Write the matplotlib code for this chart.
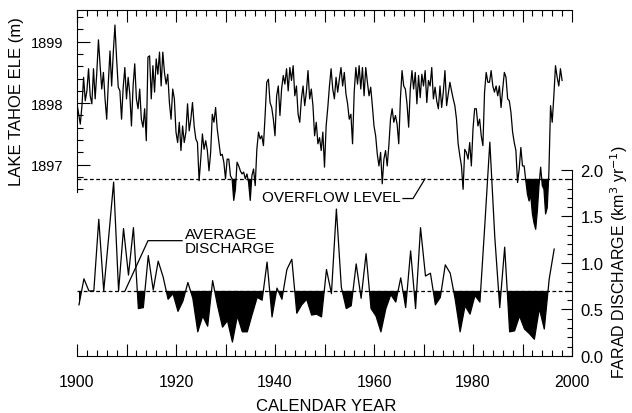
import numpy as np
import matplotlib
matplotlib.use("Agg")
import matplotlib.pyplot as plt
from matplotlib.ticker import MultipleLocator, FixedLocator, FuncFormatter

plt.rcParams['font.family'] = ['Liberation Sans', 'DejaVu Sans']

# lake surface elevation (m), read every 1/3 year from 1900.0
lake_elev = [
    1897.99, 1897.82, 1897.66, 1897.96, 1898.42, 1898.04, 1898.20, 1898.56, 1898.12, 1897.99,
    1898.56, 1898.07, 1898.50, 1899.03, 1898.61, 1898.23, 1898.50, 1898.07, 1897.74, 1898.34,
    1898.85, 1898.28, 1898.83, 1899.27, 1898.72, 1898.26, 1898.20, 1897.74, 1898.26, 1898.58,
    1898.07, 1898.42, 1898.15, 1897.63, 1898.28, 1898.64, 1898.07, 1897.91, 1898.23, 1897.74,
    1897.61, 1897.91, 1897.39, 1898.75, 1898.77, 1898.07, 1898.61, 1898.18, 1898.72, 1898.47,
    1898.83, 1898.28, 1898.83, 1898.50, 1898.31, 1898.47, 1898.01, 1897.74, 1898.23, 1898.07,
    1897.53, 1897.36, 1897.69, 1897.23, 1897.63,
    1897.36, 1897.53, 1897.99, 1897.55, 1897.74,
    1898.01, 1897.63, 1897.42, 1897.36, 1896.74, 1897.09, 1897.50, 1897.25, 1897.39, 1897.23,
    1896.90, 1897.20, 1897.82, 1897.69, 1897.93, 1897.58, 1897.36, 1897.15, 1897.17, 1897.04,
    1896.77, 1897.09, 1897.09, 1896.82, 1896.77, 1896.42, 1896.60, 1897.04, 1896.98, 1896.90,
    1896.85, 1896.88, 1896.77, 1896.85, 1896.71, 1896.42, 1896.82, 1896.93, 1896.66, 1897.25,
    1897.53, 1897.42, 1897.47, 1897.31, 1897.80, 1898.34, 1898.39, 1898.01, 1897.93, 1897.74,
    1897.47, 1898.12, 1898.28, 1897.80, 1898.23, 1898.45, 1898.31, 1898.56,
    1898.20, 1898.58, 1898.37, 1898.61, 1898.12, 1898.28, 1897.82, 1897.69, 1898.07, 1898.28,
    1897.96, 1898.18, 1898.53, 1898.07, 1898.23, 1897.96, 1897.47, 1897.69, 1897.34, 1897.44,
    1897.23, 1897.53, 1896.96, 1897.63, 1897.93, 1898.28, 1898.56, 1898.23, 1898.07, 1898.42,
    1898.18, 1898.39, 1898.58, 1898.28, 1898.50, 1898.15, 1897.99, 1897.74, 1897.82, 1897.34,
    1898.18, 1898.58, 1898.31, 1898.61, 1898.23, 1898.58, 1898.12, 1898.58, 1898.34, 1898.12,
    1898.26, 1897.96, 1897.63, 1897.47, 1897.17, 1896.98, 1897.20, 1896.69, 1897.09, 1897.23,
    1896.98, 1897.31, 1897.74,
    1897.91, 1897.69, 1897.80, 1897.66, 1897.34, 1898.07, 1898.53, 1898.28, 1898.23, 1897.99,
    1897.61, 1898.23, 1898.53, 1898.23, 1898.50, 1897.99, 1898.45, 1898.09, 1898.47, 1898.28,
    1898.53, 1898.01, 1898.37, 1898.28, 1898.58, 1898.07, 1898.26, 1898.04, 1897.91, 1898.28,
    1897.93, 1898.18, 1898.53, 1897.96, 1898.15, 1898.34, 1898.20, 1898.07, 1897.96, 1897.74,
    1897.34, 1897.15, 1896.98, 1896.60, 1897.25, 1897.20, 1897.09, 1897.36, 1896.98, 1897.58,
    1897.91, 1897.91, 1897.63, 1897.74, 1897.47, 1897.31, 1898.18, 1898.50, 1898.34, 1898.34,
    1898.53, 1898.28, 1898.18,
    1898.28, 1898.12, 1898.28, 1897.93, 1898.23, 1898.50, 1898.42, 1898.07, 1898.04, 1897.85,
    1897.53, 1897.36, 1897.23, 1896.71, 1896.93, 1897.28, 1896.98, 1896.98, 1896.74, 1896.52,
    1896.41, 1896.50, 1896.20, 1896.05, 1895.95, 1896.25, 1896.66, 1896.96, 1896.66, 1896.60,
    1896.20, 1896.30, 1896.88, 1897.96, 1897.69, 1898.12, 1898.61, 1898.42, 1898.28, 1898.56,
    1898.37,
]
overflow_level = 1896.77

# Farad annual discharge (km3/yr), water years 1900-1996
disch_years = np.arange(1900, 1997)
discharge = [
    0.55, 0.83, 0.70, 0.70, 1.47, 0.70, 1.28, 1.87, 0.70, 1.37,
    0.87, 1.38, 0.51, 0.52, 1.08, 0.71, 1.02, 0.85, 0.61, 0.67,
    0.48, 0.59, 0.79, 0.62, 0.26, 0.43, 0.32, 0.81, 0.54, 0.31,
    0.38, 0.15, 0.43, 0.26, 0.26, 0.45, 0.63, 0.60, 1.01, 0.42,
    0.73, 0.61, 0.93, 1.04, 0.46, 0.55, 0.61, 0.44, 0.45, 0.42,
    0.93, 0.67, 1.58, 0.74, 0.51, 0.54, 0.99, 0.62, 1.10, 0.51,
    0.43, 0.26, 0.51, 0.66, 0.58, 0.84, 0.52, 1.13, 0.51, 1.38,
    0.86, 0.89, 0.55, 0.63, 0.98, 0.89, 0.61, 0.26, 0.54, 0.45,
    0.65, 0.58, 1.42, 2.30, 1.28, 0.52, 1.17, 0.26, 0.27, 0.43,
    0.29, 0.24, 0.18, 0.51, 0.29, 0.83, 1.15,
]
avg_discharge = 0.70

lake = np.array(lake_elev)
lake_years = 1900 + np.arange(len(lake)) / 3.0
disch = np.array(discharge)
dx = disch_years + 0.4  # plotted mid water-year

fig = plt.figure(figsize=(6.32, 4.14), dpi=100)
ax = fig.add_axes([77 / 632, 57 / 414, 495 / 632, 346 / 414])
ax2 = ax.twinx()

# lake level
ax.plot(lake_years, lake, color='black', lw=0.9)
ax.fill_between(lake_years, lake, overflow_level, where=lake < overflow_level,
                interpolate=True, color='black', lw=0)
ax.axhline(overflow_level, color='black', lw=0.9, ls=(0, (3, 2)))

# discharge
ax2.plot(dx, disch, color='black', lw=0.9)
ax2.fill_between(dx, disch, avg_discharge, where=disch < avg_discharge,
                 interpolate=True, color='black', lw=0)
ax2.axhline(avg_discharge, color='black', lw=0.9, ls=(0, (3, 2)))

ax.set_xlim(1900, 2000)
ax.set_ylim(1893.89, 1899.515)
ax2.set_ylim(0, 3.72)

# spines
ax.spines['right'].set_visible(False)
ax.spines['left'].set_bounds(1896.55, 1899.515)
for s in ['left', 'top', 'bottom']:
    ax2.spines[s].set_visible(False)
ax2.spines['right'].set_bounds(0, 2.0)
for a in (ax, ax2):
    for s in a.spines.values():
        s.set_linewidth(0.8)

# x ticks
ax.xaxis.set_major_locator(MultipleLocator(10))
ax.xaxis.set_minor_locator(MultipleLocator(2))
ax.xaxis.set_major_formatter(FuncFormatter(lambda v, p: f"{v:.0f}" if round(v) % 20 == 0 else ""))
ax.tick_params(axis='x', which='both', direction='in', top=True, bottom=True, width=0.8)
ax.tick_params(axis='x', which='major', length=8.9, labelsize=11.5, pad=13)
ax.tick_params(axis='x', which='minor', length=4.1)

# left ticks
ax.yaxis.set_major_locator(FixedLocator([1897, 1898, 1899]))
ax.yaxis.set_minor_locator(FixedLocator(np.arange(1896.6, 1899.5, 0.2)))
ax.tick_params(axis='y', which='both', direction='in', left=True, right=False, width=0.8)
ax.tick_params(axis='y', which='major', length=9, labelsize=10.5, pad=10)
ax.tick_params(axis='y', which='minor', length=4.3)

# right ticks
ax2.yaxis.set_major_locator(FixedLocator([0, 0.5, 1.0, 1.5, 2.0]))
ax2.yaxis.set_minor_locator(FixedLocator(np.arange(0, 2.01, 0.1)))
ax2.yaxis.set_major_formatter(FuncFormatter(lambda v, p: f"{v:.1f}"))
ax2.tick_params(axis='y', which='both', direction='in', width=0.8)
ax2.tick_params(axis='y', which='major', length=7.7, labelsize=12, pad=6)
ax2.tick_params(axis='y', which='minor', length=3.6)

# annotations
ax.text(1965.45, 1896.47, "OVERFLOW LEVEL", ha='right', va='center', fontsize=11)
ax.plot([1965.86, 1967.88, 1970.3], [1896.45, 1896.45, overflow_level], color='black', lw=0.9)

ax2.text(1921.8, 1.24, "AVERAGE\nDISCHARGE", ha='left', va='center', fontsize=11, linespacing=1.0)
ax2.plot([1909.7, 1914.34, 1921.21], [avg_discharge, 1.24, 1.24], color='black', lw=0.9)

# axis labels
fig.text(16.5 / 632, 1 - 102 / 414, "LAKE TAHOE ELE (m)", rotation=90,
         ha='center', va='center', fontsize=12)
fig.text(619 / 632, 1 - 262 / 414, "FARAD DISCHARGE (km$^3$ yr$^{-1}$)", rotation=90,
         ha='center', va='center', fontsize=11.5)
fig.text(326 / 632, 1 - 407 / 414, "CALENDAR YEAR", ha='center', va='center', fontsize=12)

fig.savefig("out.png", dpi=100)
